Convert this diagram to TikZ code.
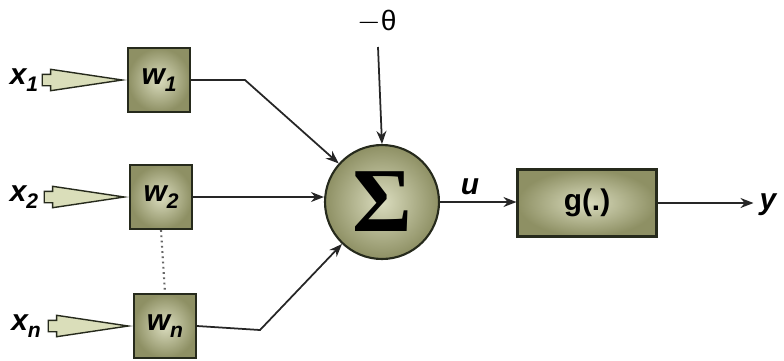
\documentclass[tikz,border=0pt]{standalone}
\usepackage{fontspec}
\setmainfont{Liberation Sans}
\newfontfamily\sigmafont{Liberation Serif}
\usetikzlibrary{arrows.meta, positioning, shapes.arrows}

\definecolor{olivelight}{RGB}{218,220,190}
\definecolor{olivedark}{RGB}{142,144,100}
\definecolor{oliveedge}{RGB}{38,42,28}
\definecolor{feedfill}{RGB}{218,222,186}

\newcommand{\lowidx}[1]{\raisebox{-0.45ex}{\fontsize{12}{13}\selectfont #1}}

\tikzset{
  every node/.style={font=\fontsize{17}{20}\selectfont\bfseries\itshape},
  weight/.style={
    draw=oliveedge, line width=1.2pt, inner color=olivelight, outer color=olivedark,
    minimum width=12.4mm, minimum height=12.8mm, inner sep=0pt
  },
  summer/.style={
    circle, draw=oliveedge, line width=1.2pt, inner color=olivelight, outer color=olivedark,
    minimum size=22.8mm, inner sep=0pt
  },
  actfun/.style={
    draw=oliveedge, line width=1.2pt, inner color=olivelight, outer color=olivedark,
    minimum width=27.8mm, minimum height=13.4mm, inner sep=0pt, font=\fontsize{17}{20}\selectfont\bfseries
  },
  feed/.style={
    single arrow, draw=oliveedge, line width=0.8pt, fill=feedfill,
    minimum height=16mm, minimum width=4mm, inner xsep=0pt, inner ysep=1mm,
    single arrow head extend=1mm, single arrow tip angle=17, anchor=tip
  },
  wire/.style={line width=1pt, black!85},
  arr/.style={wire, -{Stealth[length=2.6mm,width=2mm]}},
}

\begin{document}
\begin{tikzpicture}[x=0.02cm, y=-0.02cm]
  \useasboundingbox (0,0) rectangle (784,360);

  % Weights
  \node[weight] (w1) at (159,80) {w\lowidx{1}};
  \node[weight] (w2) at (161,197) {w\lowidx{2}};
  \node[weight] (wn) at (165,326) {w\lowidx{n}};
  \draw[wire, dotted, line width=1.2pt, black!60] (w2.south) -- (wn.north);

  % Inputs
  \node (x1) at (24,80) {x\lowidx{1}};
  \node (x2) at (24,197) {x\lowidx{2}};
  \node (xn) at (26,326) {x\lowidx{n}};
  \node[feed] (f1) at (w1.west) {};
  \node[feed] (f2) at (w2.west) {};
  \node[feed] (fn) at (wn.west) {};

  % Summing junction
  \node[summer] (sum) at (382,202) {\sigmafont\fontsize{52}{56}\selectfont\bfseries\upshape Σ};
  \node[font=\fontsize{16}{18}\selectfont] (theta) at (377,22) {$-$θ};
  \coordinate (th) at (378,47);

  % Activation and output
  \node[actfun] (g) at (587,203) {g(.)};
  \node (y) at (768,205) {y};
  \node (u) at (470,187) {u};

  % Connectors
  \coordinate (k1) at (245,80);
  \coordinate (kn) at (260,330);
  \draw[arr] (w1.east) -- (k1) -- (sum);
  \draw[arr] (w2.east) -- (w2.east -| sum.west);
  \draw[arr] (wn.east) -- (kn) -- (sum);
  \draw[arr] (th) -- (sum.north);
  \draw[arr] (sum.east) -- (sum.east -| g.west);
  \draw[arr] (g.east) -- (g.east -| y.west);
\end{tikzpicture}
\end{document}
